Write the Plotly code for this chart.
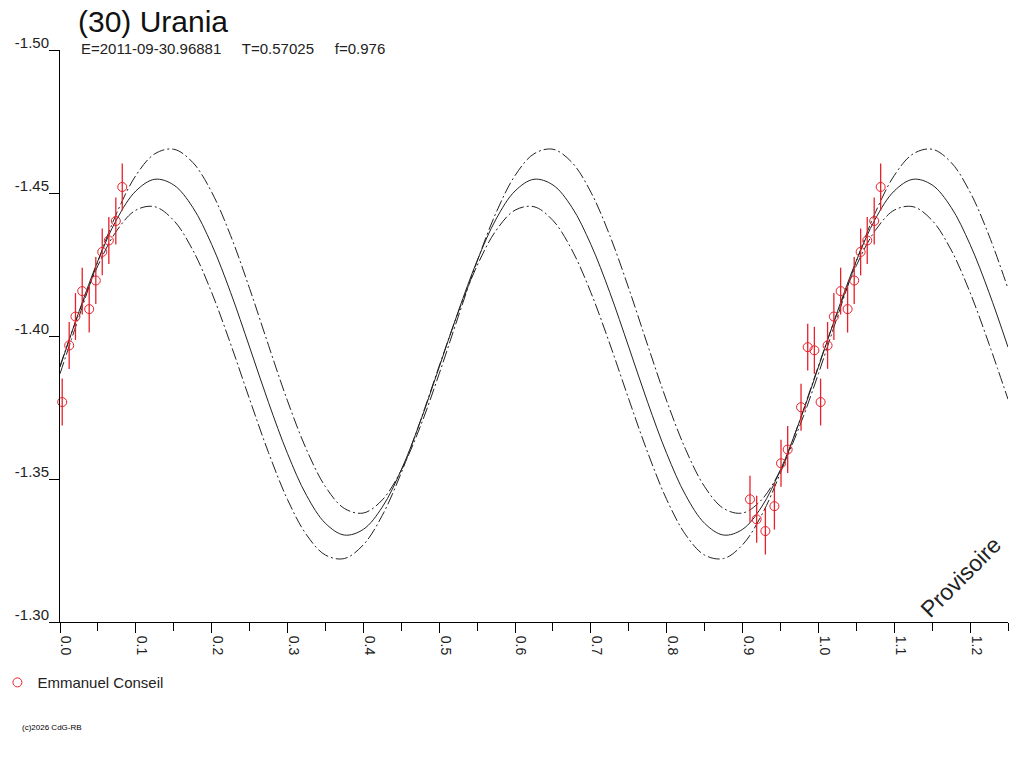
import numpy as np
import plotly.graph_objects as go

# lightcurve of (30) Urania, phase vs reduced magnitude
title = "(30) Urania"
subtitle = "E=2011-09-30.96881     T=0.57025     f=0.976"
observer = "Emmanuel Conseil"

# observations (phase, magnitude, error)
obs_phase = [0.0029, 0.0121, 0.0204, 0.0293, 0.0385, 0.0472, 0.0557, 0.0644, 0.0736, 0.0821,
             0.9098, 0.9186, 0.9301, 0.9420, 0.9507, 0.9595, 0.9771, 0.9859, 0.9947]
obs_mag = [-1.3769, -1.3967, -1.4068, -1.4157, -1.4094, -1.4194, -1.4294, -1.4334, -1.4402, -1.4521,
           -1.3429, -1.3359, -1.3318, -1.3405, -1.3555, -1.3603, -1.3751, -1.3961, -1.3950]
obs_err = [0.0082] * 19

# fitted curve and its envelope, read every 0.025 in phase
curve_phase = [0.000, 0.025, 0.050, 0.075, 0.100, 0.125, 0.150, 0.175, 0.200, 0.225,
               0.250, 0.275, 0.300, 0.325, 0.350, 0.375, 0.400, 0.425, 0.450, 0.475,
               0.500, 0.525, 0.550, 0.575, 0.600, 0.625, 0.650, 0.675, 0.700, 0.725,
               0.750, 0.775, 0.800, 0.825, 0.850, 0.875, 0.900, 0.925, 0.950, 0.975,
               1.000, 1.025, 1.050, 1.075, 1.100, 1.125, 1.150, 1.175, 1.200, 1.225, 1.250]
fit_mag = [-1.3891, -1.4085, -1.4263, -1.4409, -1.4507, -1.4548, -1.4528, -1.4450, -1.4320, -1.4152,
           -1.3961, -1.3767, -1.3589, -1.3443, -1.3345, -1.3304, -1.3324, -1.3402, -1.3532, -1.3700,
           -1.3891, -1.4085, -1.4263, -1.4409, -1.4507, -1.4548, -1.4528, -1.4450, -1.4320, -1.4152,
           -1.3961, -1.3767, -1.3589, -1.3443, -1.3345, -1.3304, -1.3324, -1.3402, -1.3532, -1.3700,
           -1.3891, -1.4085, -1.4263, -1.4409, -1.4507, -1.4548, -1.4528, -1.4450, -1.4320, -1.4152,
           -1.3961]
upper_mag = [-1.3868, -1.4067, -1.4261, -1.4431, -1.4561, -1.4637, -1.4653, -1.4607, -1.4503, -1.4351,
             -1.4166, -1.3967, -1.3773, -1.3603, -1.3473, -1.3397, -1.3381, -1.3427, -1.3531, -1.3683,
             -1.3868, -1.4067, -1.4261, -1.4431, -1.4561, -1.4637, -1.4653, -1.4607, -1.4503, -1.4351,
             -1.4166, -1.3967, -1.3773, -1.3603, -1.3473, -1.3397, -1.3381, -1.3427, -1.3531, -1.3683,
             -1.3868, -1.4067, -1.4261, -1.4431, -1.4561, -1.4637, -1.4653, -1.4607, -1.4503, -1.4351,
             -1.4166]
lower_mag = [-1.3895, -1.4082, -1.4246, -1.4369, -1.4440, -1.4452, -1.4404, -1.4301, -1.4152, -1.3972,
             -1.3779, -1.3592, -1.3428, -1.3305, -1.3234, -1.3222, -1.3270, -1.3373, -1.3522, -1.3702,
             -1.3895, -1.4082, -1.4246, -1.4369, -1.4440, -1.4452, -1.4404, -1.4301, -1.4152, -1.3972,
             -1.3779, -1.3592, -1.3428, -1.3305, -1.3234, -1.3222, -1.3270, -1.3373, -1.3522, -1.3702,
             -1.3895, -1.4082, -1.4246, -1.4369, -1.4440, -1.4452, -1.4404, -1.4301, -1.4152, -1.3972,
             -1.3779]

x_ticks = [0.0, 0.1, 0.2, 0.3, 0.4, 0.5, 0.6, 0.7, 0.8, 0.9, 1.0, 1.1, 1.2]
x_labels = ["0.0", "0.1", "0.2", "0.3", "0.4", "0.5", "0.6", "0.7", "0.8", "0.9", "1.0", "1.1", "1.2"]
y_ticks = [-1.50, -1.45, -1.40, -1.35, -1.30]
y_labels = ["-1.50", "-1.45", "-1.40", "-1.35", "-1.30"]

FONT = "Liberation Sans, Arial, sans-serif"
INK = "#222222"
RED = "#e8202a"

# points repeated one period later, as on the original
ph = np.array(obs_phase)
px_all = np.concatenate([ph, ph + 1.0])
mag_all = np.concatenate([obs_mag, obs_mag])
err_all = np.concatenate([obs_err, obs_err])
keep = px_all <= 1.25

fig = go.Figure()

for ys, dash in [(upper_mag, "12px,3px,2px,3px"), (lower_mag, "12px,3px,2px,3px"), (fit_mag, "solid")]:
    fig.add_trace(go.Scatter(
        x=curve_phase, y=ys, mode="lines",
        line=dict(color=INK, width=1, dash=dash, shape="spline", smoothing=1),
        showlegend=False, hoverinfo="skip",
    ))

fig.add_trace(go.Scatter(
    x=px_all[keep], y=mag_all[keep], mode="markers", name=observer,
    marker=dict(symbol="circle-open", size=9, color=RED, line=dict(width=1, color=RED)),
    error_y=dict(type="data", array=err_all[keep], color=RED, thickness=1.3, width=0),
    cliponaxis=False,
))

fig.update_layout(
    width=1024, height=768,
    margin=dict(l=60, r=16, t=50, b=146, autoexpand=False),
    paper_bgcolor="white", plot_bgcolor="white",
    font=dict(family=FONT, size=15, color=INK),
    title=dict(text=title, x=78 / 1024, xref="container", xanchor="left",
               y=1 - 21 / 768, yref="container", yanchor="middle",
               font=dict(size=30, color="#111111")),
    showlegend=True,
    legend=dict(x=-0.066, xanchor="left", y=-0.106, yanchor="middle",
                font=dict(size=15, color=INK), bgcolor="rgba(0,0,0,0)",
                itemclick=False, itemwidth=30),
)

fig.update_xaxes(
    range=[0, 1.25], showgrid=False, zeroline=False, automargin=False,
    showline=True, linecolor="black", linewidth=1,
    ticks="outside", ticklen=10, tickcolor="black", tickwidth=1,
    tickvals=x_ticks, ticktext=x_labels, tickangle=90,
    ticklabelshift=6, ticklabelstandoff=0,
    tickfont=dict(size=14, color=INK),
    minor=dict(dtick=0.05, tick0=0, ticks="outside", ticklen=8, tickcolor="black"),
)
fig.update_yaxes(
    range=[-1.30, -1.50], showgrid=False, zeroline=False, automargin=False,
    showline=True, linecolor="black", linewidth=1,
    ticks="outside", ticklen=10, tickcolor="black", tickwidth=1,
    tickvals=y_ticks, ticktext=y_labels,
    ticklabelshift=7, ticklabelstandoff=-3,
    tickfont=dict(size=15, color=INK),
)

fig.add_annotation(text=subtitle, xref="paper", yref="paper",
                   x=(79 - 60) / 947.5, y=1 + 2 / 572.5, xanchor="left", yanchor="middle",
                   showarrow=False, font=dict(size=15, color=INK))
fig.add_annotation(text="Provisoire", x=1.188, y=-1.3156, textangle=-45,
                   showarrow=False, font=dict(size=23, color=INK))
fig.add_annotation(text="(c)2026 CdG-RB", xref="paper", yref="paper",
                   x=(20 - 60) / 947.5, y=-(728 - 622.5) / 572.5, xanchor="left", yanchor="middle",
                   showarrow=False, font=dict(size=8, color="#000000"))

# drop the browser's default body margin so the figure sits at the page corner
fig.write_html("out.html", config={"displayModeBar": False},
               post_script="document.body.style.margin='0px';")
